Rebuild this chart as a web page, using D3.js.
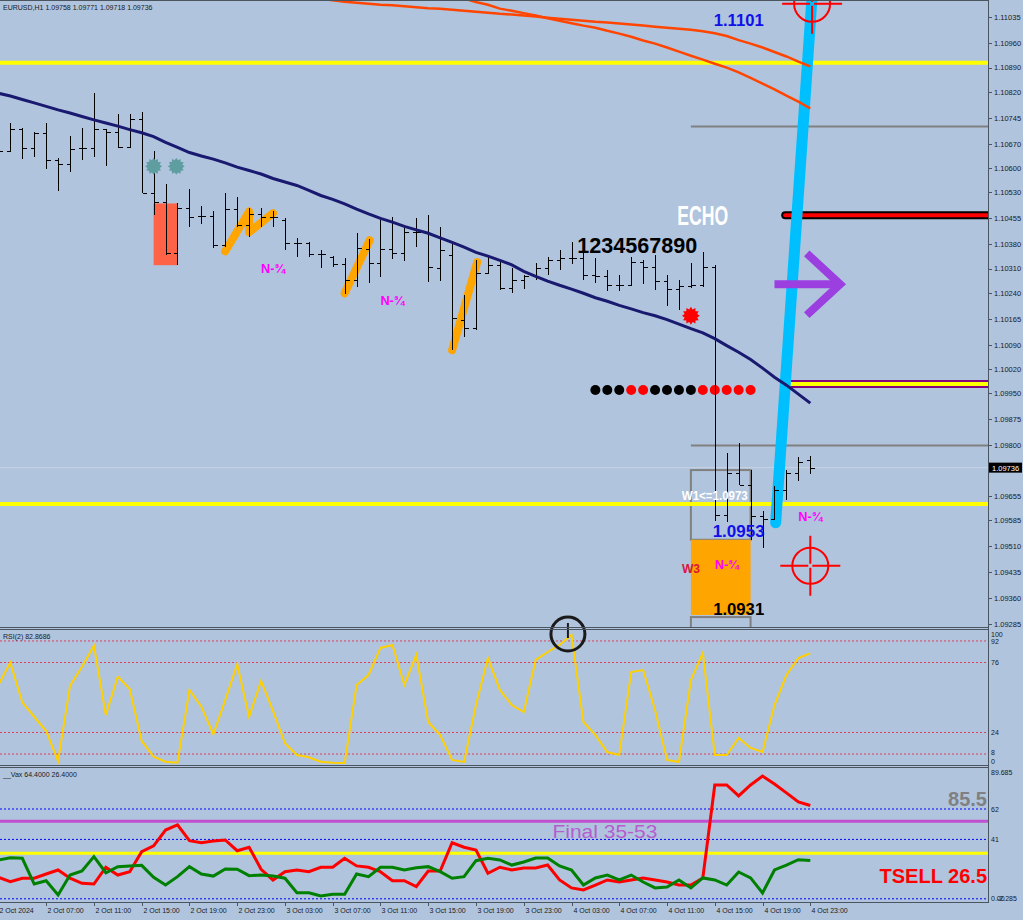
<!DOCTYPE html>
<html><head><meta charset="utf-8">
<script src="https://cdn.jsdelivr.net/npm/d3@7"></script>
<style>html,body{margin:0;padding:0;background:#b0c4de;}svg{display:block}</style>
</head><body><svg id="c" width="1023" height="920"></svg>
<script>
// ---------------- DATA ----------------
const symbolHeader = "EURUSD,H1  1.09758 1.09771 1.09718 1.09736";
const rsiHeader = "RSI(2) 82.8686";
const vaxHeader = "__Vax 64.4000 26.4000";
const barStart = new Date(2024, 9, 2, 3, 0);
const xTickLabels = ["2 Oct 2024","2 Oct 07:00","2 Oct 11:00","2 Oct 15:00","2 Oct 19:00","2 Oct 23:00",
  "3 Oct 03:00","3 Oct 07:00","3 Oct 11:00","3 Oct 15:00","3 Oct 19:00","3 Oct 23:00",
  "4 Oct 03:00","4 Oct 07:00","4 Oct 11:00","4 Oct 15:00","4 Oct 19:00","4 Oct 23:00"];
const priceTicks = ["1.11035","1.10960","1.10890","1.10820","1.10745","1.10670","1.10600","1.10530","1.10455",
  "1.10380","1.10310","1.10240","1.10165","1.10090","1.10020","1.09950","1.09875","1.09800","1.09725",
  "1.09655","1.09585","1.09510","1.09435","1.09360","1.09285"];
const rsiTicks = ["100","92","76","24","8","0"];
const rsiLevels = [92,76,24,8];
const vaxTicks = ["89.685","62","41","0.00","-2.285"];
const vaxLevels = [62,41,0];

const barOpen = [1.10665,1.10648,1.10714,1.10657,1.10700,1.10622,1.10613,1.10657,1.10657,1.10714,
 1.10703,1.10660,1.10743,1.10527,1.10501,1.10354,1.10484,1.10461,1.10461,1.10377,
 1.10481,1.10435,1.10469,1.10458,1.10449,1.10383,1.10383,1.10351,1.10343,1.10323,
 1.10276,1.10366,1.10325,1.10366,1.10354,1.10415,1.10415,1.10311,1.10348,1.10161,
 1.10138,1.10297,1.10320,1.10253,1.10276,1.10288,1.10311,1.10334,1.10340,1.10340,
 1.10291,1.10288,1.10262,1.10262,1.10328,1.10314,1.10274,1.10251,1.10259,1.10262,
 1.10314,1.09600,1.09721,1.09686,1.09597,1.09588,1.09672,1.09721,1.09758];
const barHigh = [1.10680,1.10729,1.10717,1.10703,1.10729,1.10628,1.10694,1.10717,1.10818,1.10714,
 1.10757,1.10757,1.10763,1.10648,1.10553,1.10498,1.10539,1.10490,1.10475,1.10527,
 1.10516,1.10484,1.10484,1.10475,1.10455,1.10397,1.10386,1.10363,1.10346,1.10340,
 1.10412,1.10395,1.10455,1.10458,1.10429,1.10455,1.10464,1.10429,1.10383,1.10233,
 1.10334,1.10348,1.10334,1.10311,1.10291,1.10325,1.10343,1.10363,1.10386,1.10354,
 1.10340,1.10305,1.10291,1.10343,1.10334,1.10348,1.10291,1.10276,1.10325,1.10357,
 1.10320,1.09778,1.09807,1.09729,1.09611,1.09683,1.09729,1.09767,1.09771];
const barLow = [1.10622,1.10648,1.10625,1.10631,1.10596,1.10533,1.10590,1.10622,1.10631,1.10605,
 1.10657,1.10657,1.10527,1.10464,1.10348,1.10320,1.10429,1.10438,1.10369,1.10372,
 1.10429,1.10400,1.10429,1.10429,1.10363,1.10343,1.10343,1.10311,1.10314,1.10236,
 1.10256,1.10268,1.10285,1.10337,1.10331,1.10372,1.10271,1.10274,1.10075,1.10112,
 1.10132,1.10297,1.10248,1.10239,1.10251,1.10276,1.10291,1.10305,1.10323,1.10276,
 1.10268,1.10245,1.10245,1.10260,1.10265,1.10248,1.10202,1.10190,1.10255,1.10258,
 1.09582,1.09580,1.09686,1.09528,1.09505,1.09585,1.09643,1.09698,1.09718];
const barClose = [1.10648,1.10714,1.10657,1.10700,1.10622,1.10613,1.10654,1.10657,1.10714,1.10703,
 1.10660,1.10743,1.10527,1.10501,1.10354,1.10484,1.10458,1.10461,1.10377,1.10481,
 1.10435,1.10469,1.10458,1.10458,1.10383,1.10383,1.10351,1.10351,1.10323,1.10276,
 1.10369,1.10325,1.10366,1.10354,1.10415,1.10415,1.10314,1.10363,1.10167,1.10138,
 1.10297,1.10320,1.10253,1.10276,1.10288,1.10311,1.10334,1.10340,1.10340,1.10291,
 1.10288,1.10262,1.10262,1.10328,1.10314,1.10274,1.10251,1.10259,1.10262,1.10314,
 1.09600,1.09721,1.09686,1.09597,1.09588,1.09672,1.09721,1.09752,1.09736];
const maValues = [1.10816,1.10808,1.10798,1.10788,1.10778,1.10768,1.10759,1.10749,1.10739,1.10730,
 1.10721,1.10711,1.10702,1.10691,1.10674,1.10660,1.10645,1.10635,1.10626,1.10615,
 1.10603,1.10593,1.10583,1.10570,1.10560,1.10550,1.10536,1.10521,1.10510,1.10497,
 1.10482,1.10468,1.10455,1.10444,1.10432,1.10422,1.10412,1.10399,1.10386,1.10372,
 1.10357,1.10346,1.10334,1.10321,1.10302,1.10288,1.10274,1.10262,1.10251,1.10239,
 1.10226,1.10216,1.10204,1.10194,1.10183,1.10174,1.10163,1.10150,1.10137,1.10125,
 1.10108,1.10088,1.10069,1.10048,1.10023,1.09997,1.09974,1.09948,1.09922];
const topLineAStart = 27;
const topLineA = [1.11089,1.11084,1.11080,1.11077,1.11074,1.11071,1.11070,1.11067,1.11064,1.11061,
 1.11060,1.11057,1.11054,1.11051,1.11048,1.11045,1.11043,1.11040,1.11037,1.11034,1.11031,1.11028,
 1.11025,1.11022,1.11020,1.11017,1.11014,1.11011,1.11008,1.11005,1.11002,1.10999,1.10995,1.10989,
 1.10981,1.10969,1.10959,1.10948,1.10935,1.10922,1.10907,1.10893];
const topLineBStart = 39;
const topLineB = [1.11089,1.11079,1.11071,1.11060,1.11054,1.11047,1.11040,1.11032,1.11025,1.11018,
 1.11011,1.11005,1.10996,1.10988,1.10979,1.10968,1.10959,1.10948,1.10936,1.10924,1.10913,1.10901,
 1.10890,1.10876,1.10860,1.10844,1.10827,1.10809,1.10792,1.10772];
const rsiValues = [59.3,75.9,46.4,35.7,25.1,2.8,58.8,72.9,88.5,37.0,
 65.5,56.3,17.7,6.0,2.3,1.6,55.6,43.2,22.7,48.1,
 74.7,35.7,62.3,40.0,16.0,7.3,5.6,2.3,1.6,1.3,
 59.3,66.7,86.8,89.0,59.3,81.6,31.8,22.1,3.6,2.1,
 44.4,79.3,55.6,44.4,39.2,77.9,83.8,89.0,96.4,31.8,
 22.1,9.5,7.3,68.9,70.4,40.7,3.6,2.1,63.0,83.1,
 7.3,7.3,19.9,12.5,9.5,44.4,66.7,79.3,82.87];
const vaxRed = [14.8,11.8,14.2,14.2,17.1,19.9,14.2,10.7,10.2,21.8,
 16.4,18.7,32.5,36.5,47.5,51.0,40.1,38.7,39.9,40.6,
 33.2,35.6,20.4,13.0,18.7,19.9,18.7,21.8,21.8,28.0,
 22.7,21.8,18.7,12.5,12.5,8.4,19.2,19.2,38.7,35.6,
 33.7,17.6,21.8,19.9,21.3,21.3,23.3,13.0,7.5,6.1,
 9.5,13.0,11.6,13.0,14.4,13.0,11.6,9.5,9.5,14.4,
 78.6,78.6,71.0,78.6,84.8,79.3,73.1,66.9,64.4];
const vaxGreen = [26.8,28.4,28.0,10.2,12.5,2.6,16.4,19.2,29.1,18.0,
 22.2,22.7,23.1,14.8,9.5,15.3,22.2,17.1,15.7,20.6,
 20.4,16.0,16.4,15.7,14.2,4.2,4.2,1.9,3.1,3.1,
 17.1,15.3,21.8,21.8,19.9,21.5,22.2,18.7,14.2,15.3,
 26.3,28.0,26.8,23.3,25.4,28.2,28.2,22.7,19.9,9.5,
 14.4,16.4,13.0,16.4,11.6,7.5,8.1,13.0,7.5,14.4,
 13.0,9.5,18.5,14.4,4.0,19.9,23.3,27.0,26.4];
const vaxMagentaLevel = 53.5, vaxYellowLevel = 31.5;
// objects (price levels)
const yellowHigh = 1.10904, yellowLow = 1.09631;
const grayLevelHigh = 1.10720, grayLevelLow = 1.09800;
const redLevel = 1.10464, purpleLevel = 1.09977;
const bidPrice = 1.09736;
const zig1 = [[19,1.10360],[21,1.10475],[21,1.10415],[23,1.10470]];
const zig2 = [[29,1.10239],[31.1,1.10392]];
const zig3 = [[38,1.10075],[40.1,1.10329]];
const blueTrend = [[65.1,1.09577],[68.2,1.11120]];
const dotsStart = 50, dotsLevel = 1.09960;
const dotSignal = [0,0,0,1,1,0,0,0,0,1,1,1,1,1];
const boxW1 = [58,63,1.09729,1.09528], boxOrange = [58,63,1.09528,1.09311], boxLow = [58,63,1.09305,1.09240];
const redRect = [13,15,1.10498,1.10320];

// ---------------- SCALES ----------------
const svg = d3.select("#c");
const F = "'Liberation Sans', Arial, sans-serif";
const plotR = 988;
const times = d3.range(barOpen.length).map(i => d3.timeHour.offset(barStart, i));
const xi = d3.scaleLinear().domain([0, 68]).range([-1.6, 810.3]);
const y = d3.scaleLinear().domain([1.09285, 1.11035]).range([624, 17.3]);
const yR = d3.scaleLinear().domain([0, 100]).range([764.8, 630.2]);
const yV = d3.scaleLinear().domain([0, 62]).range([898.8, 809]);

svg.append("rect").attr("width",1023).attr("height",920).attr("fill","#b0c4de");
const defs = svg.append("defs");
defs.append("clipPath").attr("id","cm").append("rect").attr("x",0).attr("y",1).attr("width",plotR).attr("height",626);
defs.append("clipPath").attr("id","cr").append("rect").attr("x",0).attr("y",630).attr("width",plotR).attr("height",135);
defs.append("clipPath").attr("id","cv").append("rect").attr("x",0).attr("y",768).attr("width",plotR).attr("height",134);

const g = svg.append("g").attr("clip-path","url(#cm)");
const hline = (gg, p, x1, color, w, cap) => gg.append("line").attr("x1",x1).attr("x2",plotR+10)
  .attr("y1",y(p)).attr("y2",y(p)).attr("stroke",color).attr("stroke-width",w).attr("stroke-linecap",cap||"butt");

// bid line
hline(g, bidPrice, 0, "#c9d3e0", 1);
// boxes
const box = (b, fill, stroke) => g.append("rect").attr("x",xi(b[0])).attr("y",y(b[2]))
  .attr("width",xi(b[1])-xi(b[0])).attr("height",y(b[3])-y(b[2])).attr("fill",fill)
  .attr("stroke",stroke).attr("stroke-width",2);
box(boxW1, "none", "#808080");
box(boxOrange, "#ffa500", "none");
box(boxLow, "none", "#808080");
g.append("rect").attr("x",xi(redRect[0])).attr("y",y(redRect[2])).attr("width",xi(redRect[1])-xi(redRect[0]))
  .attr("height",y(redRect[3])-y(redRect[2])).attr("fill","#ff6347");
// horizontal lines
hline(g, yellowHigh, 0, "#ffff00", 4);
hline(g, yellowLow, 0, "#ffff00", 4);
hline(g, grayLevelHigh, xi(58), "#808080", 2);
hline(g, grayLevelLow, xi(58), "#808080", 2);
hline(g, redLevel, xi(65.9), "#000", 8, "round");
hline(g, redLevel, xi(65.9), "#ff0000", 4, "round");
hline(g, purpleLevel, xi(65.9), "#800080", 8, "round");
hline(g, purpleLevel, xi(65.9), "#ffff00", 4, "round");

// zigzag strokes
const ln = d3.line().x(d => xi(d[0])).y(d => y(d[1]));
[zig1, zig2, zig3].forEach(z => g.append("path").attr("d", ln(z)).attr("fill","none")
  .attr("stroke","#ffa500").attr("stroke-width",8).attr("stroke-linecap","round").attr("stroke-linejoin","round"));
// blue trend
g.append("path").attr("d", ln(blueTrend)).attr("fill","none").attr("stroke","#00bfff")
  .attr("stroke-width",11).attr("stroke-linecap","round");

// purple arrow
const ap = 1.10265;
g.append("path").attr("d", ln([[65.0,ap],[70.2,ap]])).attr("stroke","#9b3fe0").attr("stroke-width",8).attr("fill","none");
g.append("path").attr("d", ln([[67.7,1.10354],[70.5,ap],[67.7,1.10176]])).attr("stroke","#9b3fe0")
  .attr("stroke-width",8).attr("fill","none").attr("stroke-linejoin","miter");

// dots
g.selectAll(".dot").data(dotSignal).join("circle").attr("cx",(d,i)=>xi(dotsStart+i)).attr("cy",y(dotsLevel))
  .attr("r",5).attr("fill",d=>d? "#ff0000":"#000");

// bars
const bars = g.append("g").attr("stroke","#000").attr("stroke-width",1).attr("shape-rendering","crispEdges");
times.forEach((t,i) => {
  const x = Math.round(xi(i)) + 0.5;
  bars.append("line").attr("x1",x).attr("x2",x).attr("y1",y(barHigh[i])).attr("y2",y(barLow[i]));
  bars.append("line").attr("x1",x-4).attr("x2",x).attr("y1",Math.round(y(barOpen[i]))+0.5).attr("y2",Math.round(y(barOpen[i]))+0.5);
  bars.append("line").attr("x1",x).attr("x2",x+4).attr("y1",Math.round(y(barClose[i]))+0.5).attr("y2",Math.round(y(barClose[i]))+0.5);
});

// stars
function burst(cx, cy, ro, ri, n) {
  const pts = [];
  for (let k = 0; k < 2*n; k++) { const a = k*Math.PI/n, r = k%2 ? ri : ro; pts.push([cx+r*Math.cos(a), cy+r*Math.sin(a)]); }
  return "M" + pts.map(p => p.join(",")).join("L") + "Z";
}
g.append("path").attr("d", burst(xi(13), y(1.10605), 8.5, 6.3, 12)).attr("fill","#5f9ea0");
g.append("path").attr("d", burst(xi(14.9), y(1.10605), 8.5, 6.3, 12)).attr("fill","#5f9ea0");
g.append("path").attr("d", burst(xi(58), y(1.10174), 9, 6.5, 12)).attr("fill","#ff0000");

// MA and upper lines
const lnI = (start) => d3.line().x((d,i) => xi(start+i)).y(d => y(d));
g.append("path").attr("d", lnI(0)(maValues)).attr("fill","none").attr("stroke","#191970").attr("stroke-width",3);
g.append("path").attr("d", lnI(topLineAStart)(topLineA)).attr("fill","none").attr("stroke","#ff4500").attr("stroke-width",2.5);
g.append("path").attr("d", lnI(topLineBStart)(topLineB)).attr("fill","none").attr("stroke","#ff4500").attr("stroke-width",2.5);

// targets
function target(cx, cy) {
  const t = g.append("g").attr("stroke","#ff0000").attr("stroke-width",2).attr("fill","none");
  t.append("circle").attr("cx",cx).attr("cy",cy).attr("r",18);
  t.append("line").attr("x1",cx-30).attr("x2",cx-2).attr("y1",cy).attr("y2",cy);
  t.append("line").attr("x1",cx+2).attr("x2",cx+30).attr("y1",cy).attr("y2",cy);
  t.append("line").attr("x1",cx).attr("x2",cx).attr("y1",cy-30).attr("y2",cy-2);
  t.append("line").attr("x1",cx).attr("x2",cx).attr("y1",cy+2).attr("y2",cy+30);
}
target(xi(68), y(1.09453));
target(xi(68.15), y(1.11074));

// texts
const txt = (i, p, s, size, color, weight, len) => {
  const t = g.append("text").attr("x",xi(i)).attr("y",y(p)).attr("text-anchor","middle")
    .attr("dominant-baseline","central").attr("font-family",F).attr("font-size",size)
    .attr("font-weight",weight||"bold").attr("fill",color).text(s);
  if (len) t.attr("textLength",len).attr("lengthAdjust","spacingAndGlyphs");
  return t;
};
txt(59, 1.10464, "ECHO", 28, "#fff", "bold", 51);
txt(53.5, 1.10377, "1234567890", 22, "#000", "bold", 120);
txt(62, 1.11025, "1.1101", 16, "#1010e8", "bold", 50);
txt(62, 1.09553, "1.0953", 16, "#1010e8", "bold", 52);
txt(62, 1.09328, "1.0931", 16, "#000", "bold", 51);
txt(60, 1.09654, "W1<=1.0973", 12, "#fff", "bold", 66);
txt(58, 1.09444, "W3", 13, "#dc143c", "bold", 18);
[[23,1.10311],[33,1.10219],[68,1.09596],[61,1.09458]].forEach(d => txt(d[0], d[1], "N-¾", 13, "#ff00ff", "bold", 24));

// header
svg.append("text").attr("x",3).attr("y",10).attr("font-family",F).attr("font-size",7).attr("fill","#1a1a1a").text(symbolHeader);

// ---------------- RSI PANEL ----------------
const gr = svg.append("g").attr("clip-path","url(#cr)");
rsiLevels.forEach(v => gr.append("line").attr("x1",0).attr("x2",plotR).attr("y1",yR(v)).attr("y2",yR(v))
  .attr("stroke","#e0405a").attr("stroke-width",1).attr("stroke-dasharray","2,2"));
gr.append("path").attr("d", d3.line().x((d,i)=>xi(i)).y(d=>yR(d))(rsiValues)).attr("fill","none")
  .attr("stroke","#ffd000").attr("stroke-width",2);
svg.append("text").attr("x",3).attr("y",639).attr("font-family",F).attr("font-size",7).attr("fill","#1a1a1a").text(rsiHeader);

// ---------------- VAX PANEL ----------------
const gv = svg.append("g").attr("clip-path","url(#cv)");
vaxLevels.forEach(v => gv.append("line").attr("x1",0).attr("x2",plotR).attr("y1",yV(v)).attr("y2",yV(v))
  .attr("stroke","#0000ff").attr("stroke-width",1).attr("stroke-dasharray","2,2"));
gv.append("line").attr("x1",0).attr("x2",plotR).attr("y1",yV(vaxMagentaLevel)).attr("y2",yV(vaxMagentaLevel))
  .attr("stroke","#c050d0").attr("stroke-width",3);
gv.append("line").attr("x1",0).attr("x2",plotR).attr("y1",yV(vaxYellowLevel)).attr("y2",yV(vaxYellowLevel))
  .attr("stroke","#ffff00").attr("stroke-width",3);
const lv = d3.line().x((d,i)=>xi(i)).y(d=>yV(d));
gv.append("path").attr("d", lv(vaxRed)).attr("fill","none").attr("stroke","#ff0000").attr("stroke-width",3);
gv.append("path").attr("d", lv(vaxGreen)).attr("fill","none").attr("stroke","#008000").attr("stroke-width",3);
gv.append("text").attr("x",xi(50.8)).attr("y",yV(46.5)).attr("text-anchor","middle").attr("dominant-baseline","central")
  .attr("font-family",F).attr("font-size",19).attr("fill","#b65ccf").attr("textLength",105).attr("lengthAdjust","spacingAndGlyphs").text("Final 35-53");
gv.append("text").attr("x",plotR-1).attr("y",yV(69)).attr("text-anchor","end").attr("dominant-baseline","central")
  .attr("font-family",F).attr("font-size",20).attr("font-weight","bold").attr("fill","#808080").text("85.5");
gv.append("text").attr("x",plotR-1).attr("y",yV(16)).attr("text-anchor","end").attr("dominant-baseline","central")
  .attr("font-family",F).attr("font-size",20).attr("font-weight","bold").attr("fill","#ff0000").text("TSELL 26.5");
svg.append("text").attr("x",3).attr("y",777).attr("font-family",F).attr("font-size",7).attr("fill","#1a1a1a").text(vaxHeader);

// black circle marker
svg.append("circle").attr("cx",xi(47.7)).attr("cy",634).attr("r",17).attr("fill","none").attr("stroke","#1a1a1a").attr("stroke-width",3);
svg.append("line").attr("x1",xi(47.7)).attr("x2",xi(47.7)).attr("y1",623).attr("y2",638).attr("stroke","#1a1a1a").attr("stroke-width",2);

// ---------------- FRAMES & AXES ----------------
const frame = svg.append("g").attr("stroke","#4a5560").attr("stroke-width",1).attr("shape-rendering","crispEdges");
[0.5, 627.5, 629.5, 765.5, 767.5, 902.5].forEach(v => frame.append("line").attr("x1",0).attr("x2",plotR).attr("y1",v).attr("y2",v));
frame.append("line").attr("x1",plotR+0.5).attr("x2",plotR+0.5).attr("y1",0).attr("y2",903);

const axT = svg.append("g").attr("font-family",F).attr("font-size",7.5).attr("fill","#1a1a1a");
priceTicks.forEach(s => {
  const yy = y(+s);
  frame.append("line").attr("x1",plotR).attr("x2",plotR+4).attr("y1",Math.round(yy)+0.5).attr("y2",Math.round(yy)+0.5);
  // the tick that falls under the bid label is hidden by it
  if (Math.abs(yy - y(bidPrice)) > 6) axT.append("text").attr("x",994).attr("y",yy+2.8).text(s);
});
// bid label
svg.append("rect").attr("x",989).attr("y",y(bidPrice)-5).attr("width",33).attr("height",10).attr("fill","#000");
svg.append("text").attr("x",992).attr("y",y(bidPrice)+3).attr("font-family",F).attr("font-size",7.5).attr("fill","#fff").text(bidPrice.toFixed(5));

rsiTicks.forEach((s,i) => {
  let yy = yR(+s);
  if (i === 0) yy += 4; if (i === rsiTicks.length-1) yy -= 3.5;
  if (i === rsiTicks.length-2) yy -= 1.5;
  axT.append("text").attr("x",991).attr("y",yy+2.6).attr("font-size",7).text(s);
});
vaxTicks.forEach((s,i) => {
  let yy = yV(+s);
  if (i === 0) yy += 3.5; if (i >= 3) yy = yV(0) - 0.5;
  axT.append("text").attr("x",i===3?991:(i===4?997:991)).attr("y",yy+2.8).attr("font-size",7).text(s);
});

xTickLabels.forEach((s,j) => {
  const x = Math.round(xi(4*j)) + 0.5;
  frame.append("line").attr("x1",x).attr("x2",x).attr("y1",903).attr("y2",906);
  axT.append("text").attr("x",x+1).attr("y",913).attr("font-size",7).text(s);
});
</script></body></html>
